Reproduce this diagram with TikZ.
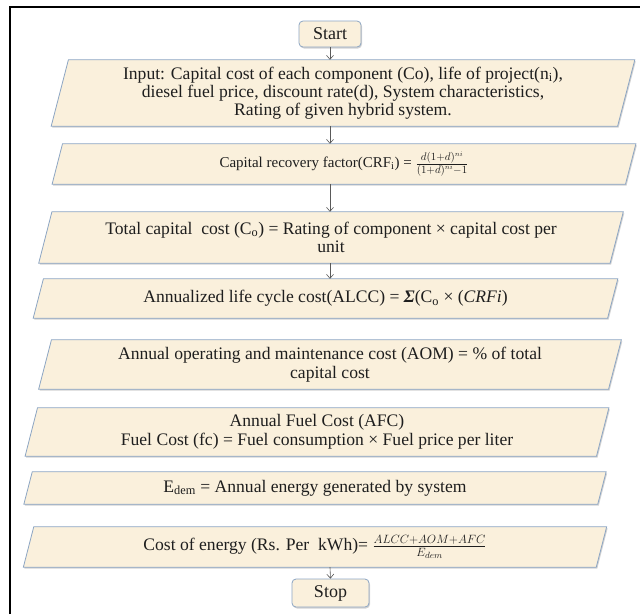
\documentclass[tikz,border=0pt]{standalone}
\usepackage{fontspec}
\setmainfont{Liberation Serif}
\usetikzlibrary{arrows.meta,shadows,backgrounds}
\definecolor{boxfill}{RGB}{250,240,220}
\definecolor{boxline}{RGB}{140,165,195}
\definecolor{txt}{RGB}{30,30,30}
\definecolor{arr}{RGB}{90,90,90}
\newcommand\drawpgram[2]{\path[parabox] ([xshift=#2pt]#1.north west) -- ([xshift=#2pt]#1.north east) -- ([xshift=-#2pt]#1.south east) -- ([xshift=-#2pt]#1.south west) -- cycle;}
\begin{document}
\begin{tikzpicture}[x=1pt,y=-1pt,
  box/.style={inner sep=0pt, align=center, text=txt, font=\fontsize{17.6}{18.5}\selectfont},
  term/.style={box, rounded corners=4pt, fill=boxfill, draw=boxline, line width=0.8pt,
    drop shadow={opacity=0.35, shadow xshift=1pt, shadow yshift=-1.5pt}, font=\fontsize{18}{20}\selectfont},
  parabox/.style={fill=boxfill, draw=boxline, line width=0.8pt,
    drop shadow={opacity=0.35, shadow xshift=1pt, shadow yshift=-1.5pt}},
  flow/.style={draw=arr, line width=0.6pt, -{Straight Barb[length=4pt,width=7pt]}}
]
\useasboundingbox (0,0) rectangle (640,614);
\draw[line width=2pt] (10,614) -- (10,7) -- (640,7);

\node[term, minimum width=62pt, minimum height=26pt] (start) at (330,34) {Start};
\node[box, minimum width=566pt, minimum height=66pt, font=\fontsize{17.6}{18}\selectfont] (input) at (343,93)
  {Input: Capital cost of each component (Co), life of project(n\textsubscript{i}),\\
   diesel fuel price, discount rate(d), System characteristics,\\
   Rating of given hybrid system.};
\node[box, minimum width=573pt, minimum height=40pt, font=\fontsize{15}{17}\selectfont] (crf) at (344,164)
  {Capital recovery factor(CRF\textsubscript{i}) = {\fontsize{15}{17}\selectfont$\frac{d(1+d)^{ni}}{(1+d)^{ni}-1}$}};
\node[box, minimum width=571pt, minimum height=51pt] (total) at (331,237.5)
  {Total capital\ \ cost (C\textsubscript{o}) = Rating of component × capital cost per\\ unit};
\node[box, minimum width=574pt, minimum height=39pt] (alcc) at (325.5,298.5)
  {Annualized life cycle cost(ALCC) = \textbf{\textit{Σ}}(C\textsubscript{o} × (\textit{CRFi})};
\node[box, minimum width=569.5pt, minimum height=49pt] (aom) at (330,364.5)
  {Annual operating and maintenance cost (AOM) = \% of total\\ capital cost};
\node[box, minimum width=571pt, minimum height=48pt] (afc) at (317,432)
  {Annual Fuel Cost (AFC)\\ Fuel Cost (fc) = Fuel consumption × Fuel price per liter};
\node[box, minimum width=573.5pt, minimum height=32pt] (edem) at (315,488)
  {E\textsubscript{dem} = Annual energy generated by system};
\node[box, minimum width=572.5pt, minimum height=40pt] (cost) at (315,547)
  {Cost of energy (Rs. Per\ \ kWh)= $\frac{ALCC+AOM+AFC}{E_{dem}}$};
\node[term, minimum width=77pt, minimum height=28pt] (stop) at (330.5,593) {Stop};

\begin{scope}[on background layer]
\drawpgram{input}{8.6}
\drawpgram{crf}{5.2}
\drawpgram{total}{6.6}
\drawpgram{alcc}{5.1}
\drawpgram{aom}{6.4}
\drawpgram{afc}{6.2}
\drawpgram{edem}{4.2}
\drawpgram{cost}{5.2}
\end{scope}

\draw[flow] (start.south) -- (start.south |- input.north);
\draw[flow] (start.south |- input.south) -- (start.south |- crf.north);
\draw[flow] (start.south |- crf.south) -- (start.south |- total.north);
\draw[flow] (start.south |- total.south) -- (start.south |- alcc.north);
\draw[flow] (start.south |- cost.south) -- (stop.north);
\end{tikzpicture}
\end{document}
